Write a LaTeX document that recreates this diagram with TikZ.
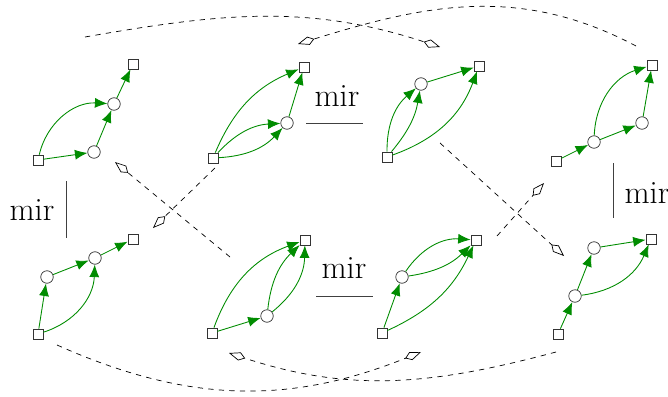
\documentclass[tikz,border=0pt]{standalone}
\usetikzlibrary{arrows.meta}
\definecolor{flowgreen}{RGB}{0,140,0}
\begin{document}
\begin{tikzpicture}[
    x=0.02cm, y=0.02cm,
    sq/.style={
        draw=black!80,
        fill=white,
        minimum size=0.2cm,
        inner sep=0pt
    },
    ci/.style={
        draw=black!80,
        circle,
        fill=white,
        minimum size=0.25cm,
        inner sep=0pt
    },
    flow/.style={-{Latex[length=0.25cm, width=0.2cm]}, draw=flowgreen, line width=0.5pt},
    mov/.style={dashed, -{Kite[open, length=0.34cm, width=0.17cm, inset=0.12cm]}},
    bar/.style={draw=black!75, line width=0.5pt},
    lbl/.style={font=\fontsize{18.5}{22}\selectfont}
]
    \useasboundingbox (0,0) rectangle (668,396);

    % upper row
    \node[sq] (a1) at (38,236) {};
    \node[ci] (b1) at (94,244) {};
    \node[ci] (c1) at (114,292) {};
    \node[sq] (d1) at (133,332) {};
    \draw[flow] (a1) -- (b1);
    \draw[flow] (b1) -- (c1);
    \draw[flow] (c1) -- (d1);
    \draw[flow] (a1) to[bend left=40] (c1);

    \node[sq] (a2) at (213,238) {};
    \node[ci] (b2) at (287,273) {};
    \node[sq] (c2) at (304,329) {};
    \draw[flow] (a2) to[bend left=22] (b2);
    \draw[flow] (a2) to[bend right=22] (b2);
    \draw[flow] (b2) -- (c2);
    \draw[flow] (a2) to[bend left=22] (c2);

    \node[sq] (a3) at (387,239) {};
    \node[ci] (b3) at (421,312) {};
    \node[sq] (c3) at (479,330) {};
    \draw[flow] (a3) to[bend left=25] (b3);
    \draw[flow] (a3) to[bend right=15] (b3);
    \draw[flow] (b3) -- (c3);
    \draw[flow] (a3) to[bend right=25] (c3);

    \node[sq] (a4) at (556,235) {};
    \node[ci] (b4) at (594,254) {};
    \node[ci] (c4) at (642,273) {};
    \node[sq] (d4) at (652,331) {};
    \draw[flow] (a4) -- (b4);
    \draw[flow] (b4) -- (c4);
    \draw[flow] (c4) -- (d4);
    \draw[flow] (b4) to[bend left=35] (d4);

    % lower row
    \node[sq] (a5) at (38,62) {};
    \node[ci] (b5) at (47,119) {};
    \node[ci] (c5) at (95,138) {};
    \node[sq] (d5) at (133,157) {};
    \draw[flow] (a5) -- (b5);
    \draw[flow] (b5) -- (c5);
    \draw[flow] (c5) -- (d5);
    \draw[flow] (a5) to[bend right=35] (c5);

    \node[sq] (a6) at (212,63) {};
    \node[ci] (b6) at (267,80) {};
    \node[sq] (c6) at (305,156) {};
    \draw[flow] (a6) -- (b6);
    \draw[flow] (a6) to[bend left=25] (c6);
    \draw[flow] (b6) to[bend left=20] (c6);
    \draw[flow] (b6) to[bend right=25] (c6);

    \node[sq] (a7) at (382,63) {};
    \node[ci] (b7) at (402,119) {};
    \node[sq] (c7) at (476,156) {};
    \draw[flow] (a7) -- (b7);
    \draw[flow] (b7) to[bend left=30] (c7);
    \draw[flow] (b7) to[bend right=18] (c7);
    \draw[flow] (a7) to[bend right=20] (c7);

    \node[sq] (a8) at (558,62) {};
    \node[ci] (b8) at (575,100) {};
    \node[ci] (c8) at (594,148) {};
    \node[sq] (d8) at (651,157) {};
    \draw[flow] (a8) -- (b8);
    \draw[flow] (b8) -- (c8);
    \draw[flow] (c8) -- (d8);
    \draw[flow] (b8) to[bend right=30] (d8);

    % mir labels
    \node[lbl] (mirtop) at (337,300) {mir};
    \draw[bar] (306,273) -- (363,273);
    \node[lbl] (mirleft) at (32,186) {mir};
    \draw[bar] (66,215) -- (66,158);
    \node[lbl] (mirbot) at (344,128) {mir};
    \draw[bar] (316,100) -- (373,100);
    \node[lbl] (mirright) at (647,203) {mir};
    \draw[bar] (613,233) -- (613,178);

    % moves
    \coordinate (m1s) at (85,359);   \coordinate (m1e) at (440,349);
    \coordinate (m2s) at (636,350);  \coordinate (m2e) at (298,352);
    \coordinate (m3s) at (57,51);    \coordinate (m3e) at (421,44);
    \coordinate (m4s) at (556,44);   \coordinate (m4e) at (229,43);
    \draw[mov] (m1s) .. controls (222,383) and (308,392) .. (m1e);
    \draw[mov] (m2s) .. controls (519,412) and (424,391) .. (m2e);
    \draw[mov] (m3s) .. controls (187,-7) and (289,-9) .. (m3e);
    \draw[mov] (m4s) .. controls (432,11) and (351,3) .. (m4e);

    \coordinate (x1s) at (230,139);  \coordinate (x1e) at (115,234);
    \coordinate (x2s) at (215,228);  \coordinate (x2e) at (153,168);
    \coordinate (x3s) at (440,253);  \coordinate (x3e) at (564,140);
    \coordinate (x4s) at (497,160);  \coordinate (x4e) at (544,213);
    \draw[mov] (x1s) -- (x1e);
    \draw[mov] (x2s) -- (x2e);
    \draw[mov] (x3s) -- (x3e);
    \draw[mov] (x4s) -- (x4e);
\end{tikzpicture}
\end{document}
